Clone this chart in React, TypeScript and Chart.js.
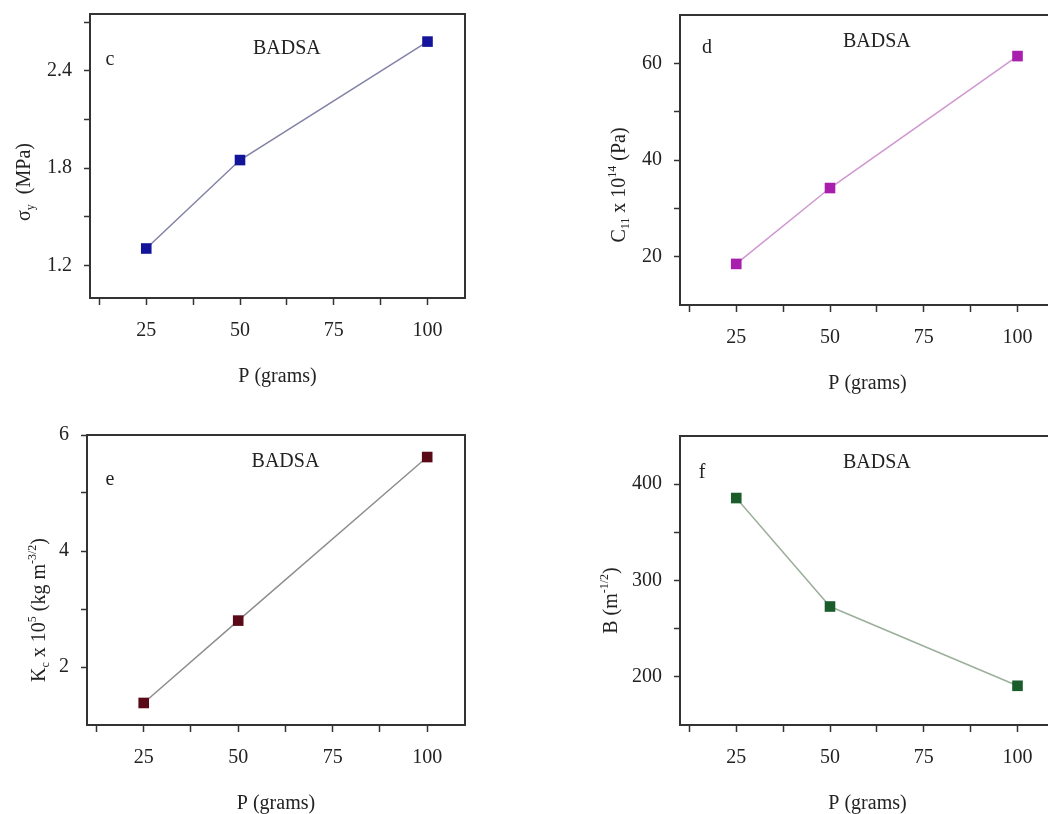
import React, { useEffect, useRef } from 'react';
import { Chart, registerables } from 'chart.js';

Chart.register(...registerables);

// ---------- data ----------
const categories = ['25', '50', '75', '100'];
const xMinorTicks = [0.5, 1.5, 2.5, 3.5];
const loads = ['25', '50', '100'];

const sigmaY = [1.305, 1.85, 2.58];
const c11 = [18.5, 34.2, 61.5];
const kc = [1.38, 2.8, 5.62];
const bIndex = [385.6, 273, 190.7];

const sigmaMajor = [1.2, 1.8, 2.4];
const sigmaMinor = [1.5, 2.1, 2.7];
const c11Major = [20, 40, 60];
const c11Minor = [30, 50];
const kcMajor = [2, 4, 6];
const kcMinor = [3, 5];
const bMajor = [200, 300, 400];
const bMinor = [250, 350];

const sigmaRange = [1.0, 2.75];
const c11Range = [10, 70];
const kcRange = [1, 6];
const bRange = [150, 450];
const xRange = [0.4, 4.4];

type Seg = [string, 'n' | 'sub' | 'sup'];
const sigmaTitle: Seg[] = [['σ', 'n'], ['y', 'sub'], ['  (MPa)', 'n']];
const c11Title: Seg[] = [['C', 'n'], ['11', 'sub'], [' x 10', 'n'], ['14', 'sup'], [' (Pa)', 'n']];
const kcTitle: Seg[] = [['K', 'n'], ['c', 'sub'], [' x 10', 'n'], ['5', 'sup'], [' (kg m', 'n'], ['-3/2', 'sup'], [')', 'n']];
const bTitle: Seg[] = [['B (m', 'n'], ['-1/2', 'sup'], [')', 'n']];

const FONT = '"Liberation Serif", "Times New Roman", Times, serif';
const Y_AXIS_W = 60;
const X_AXIS_H = 40;

function drawRotated(ctx: CanvasRenderingContext2D, segs: Seg[], x: number, y: number, F: number) {
  ctx.save();
  ctx.translate(x, y);
  ctx.rotate(-Math.PI / 2);
  ctx.textAlign = 'left';
  ctx.textBaseline = 'middle';
  const widths = segs.map(([t, k]) => {
    ctx.font = `${k === 'n' ? F : Math.round(F * 0.6)}px ${FONT}`;
    return ctx.measureText(t).width;
  });
  const total = widths.reduce((s, w) => s + w, 0);
  let cur = -total / 2;
  segs.forEach(([t, k], i) => {
    ctx.font = `${k === 'n' ? F : Math.round(F * 0.6)}px ${FONT}`;
    const off = k === 'sub' ? F * 0.3 : k === 'sup' ? -F * 0.35 : 0;
    ctx.fillText(t, cur, off);
    cur += widths[i];
  });
  ctx.restore();
}

interface PanelProps {
  letter: string;
  values: number[];
  range: number[];
  major: number[];
  minor: number[];
  digits: number;
  title: Seg[];
  pointColor: string;
  lineColor: string;
  canvas: { x: number; y: number; w: number; h: number };
  area: { l: number; t: number; r: number; b: number };
  titleOff: { dx: number; dy: number };
  letterOff: { dx: number; dy: number };
  badsaDy: number;
}

function Panel(p: PanelProps) {
  const ref = useRef<HTMLCanvasElement>(null);
  useEffect(() => {
    if (!ref.current) return;
    const xs = loads.map((l) => categories.indexOf(l) + 1);
    const decor = {
      id: 'decor' + p.letter,
      afterDraw(chart: any) {
        const { ctx, chartArea: a, scales } = chart;
        ctx.save();
        ctx.strokeStyle = '#333';
        ctx.lineWidth = 2;
        ctx.beginPath();
        ctx.moveTo(a.left, a.top);
        ctx.lineTo(a.right, a.top);
        ctx.lineTo(a.right, a.bottom);
        ctx.stroke();
        ctx.fillStyle = '#222';
        ctx.font = `20px ${FONT}`;
        ctx.textAlign = 'center';
        ctx.textBaseline = 'middle';
        ctx.fillText('P (grams)', (a.left + a.right) / 2, a.bottom + 79);
        ctx.fillText(p.letter, a.left + p.letterOff.dx, a.top + p.letterOff.dy);
        ctx.fillText('BADSA', scales.x.getPixelForValue(2.5), a.top + p.badsaDy);
        drawRotated(ctx, p.title, a.left + p.titleOff.dx, (a.top + a.bottom) / 2 + p.titleOff.dy, 20);
        ctx.restore();
      },
    };
    const chart = new Chart(ref.current, {
      type: 'line',
      data: {
        datasets: [
          {
            data: p.values.map((v, i) => ({ x: xs[i], y: v })),
            borderColor: p.lineColor,
            borderWidth: 1.5,
            pointStyle: 'rect',
            pointRadius: 7.5,
            pointBackgroundColor: p.pointColor,
            pointBorderColor: p.pointColor,
            pointBorderWidth: 0,
            tension: 0,
          },
        ],
      },
      options: {
        responsive: false,
        animation: false,
        events: [],
        layout: {
          padding: {
            left: p.area.l - p.canvas.x - Y_AXIS_W,
            top: p.area.t - p.canvas.y,
            right: p.canvas.x + p.canvas.w - p.area.r,
            bottom: p.canvas.y + p.canvas.h - p.area.b - X_AXIS_H,
          },
        },
        plugins: { legend: { display: false }, tooltip: { enabled: false } },
        scales: {
          x: {
            type: 'linear',
            min: xRange[0],
            max: xRange[1],
            afterBuildTicks: (scale: any) => {
              scale.ticks = [...categories.map((_, i) => i + 1), ...xMinorTicks]
                .sort((a, b) => a - b)
                .map((v) => ({ value: v }));
            },
            afterFit: (scale: any) => {
              scale.height = X_AXIS_H;
            },
            ticks: {
              autoSkip: false,
              maxRotation: 0,
              padding: 14,
              color: '#222',
              font: { family: FONT, size: 20 },
              callback: (v: any) => (Number.isInteger(v) ? categories[v - 1] : ''),
            },
            grid: { drawOnChartArea: false, drawTicks: true, tickLength: 7, tickColor: '#333', tickWidth: 1.5 },
            border: { display: true, color: '#333', width: 2 },
          },
          y: {
            type: 'linear',
            min: p.range[0],
            max: p.range[1],
            afterBuildTicks: (scale: any) => {
              scale.ticks = [...p.major, ...p.minor].sort((a, b) => a - b).map((v) => ({ value: v }));
            },
            afterFit: (scale: any) => {
              scale.width = Y_AXIS_W;
            },
            ticks: {
              autoSkip: false,
              padding: 12,
              color: '#222',
              font: { family: FONT, size: 20 },
              callback: (v: any) => (p.major.includes(v) ? Number(v).toFixed(p.digits) : ''),
            },
            grid: { drawOnChartArea: false, drawTicks: true, tickLength: 6, tickColor: '#333', tickWidth: 1.5 },
            border: { display: true, color: '#333', width: 2 },
          },
        },
      },
      plugins: [decor],
    } as any);
    return () => chart.destroy();
  }, []);
  return (
    <canvas
      ref={ref}
      width={p.canvas.w}
      height={p.canvas.h}
      style={{ position: 'absolute', left: p.canvas.x, top: p.canvas.y, width: p.canvas.w, height: p.canvas.h }}
    />
  );
}

export default function App() {
  return (
    <div style={{ position: 'absolute', left: 0, top: 0, width: 1048, height: 814, overflow: 'hidden', background: '#fff' }}>
      <Panel
        letter="c"
        values={sigmaY}
        range={sigmaRange}
        major={sigmaMajor}
        minor={sigmaMinor}
        digits={1}
        title={sigmaTitle}
        pointColor="#14149a"
        lineColor="#8282a6"
        canvas={{ x: 0, y: -30, w: 540, h: 440 }}
        area={{ l: 90, t: 14, r: 465, b: 298 }}
        titleOff={{ dx: -65, dy: 26 }}
        letterOff={{ dx: 20, dy: 46 }}
        badsaDy={35}
      />
      <Panel
        letter="d"
        values={c11}
        range={c11Range}
        major={c11Major}
        minor={c11Minor}
        digits={0}
        title={c11Title}
        pointColor="#a81fae"
        lineColor="#cf98cf"
        canvas={{ x: 560, y: -30, w: 520, h: 440 }}
        area={{ l: 680, t: 15, r: 1055, b: 305 }}
        titleOff={{ dx: -60, dy: 25 }}
        letterOff={{ dx: 27, dy: 33 }}
        badsaDy={27}
      />
      <Panel
        letter="e"
        values={kc}
        range={kcRange}
        major={kcMajor}
        minor={kcMinor}
        digits={0}
        title={kcTitle}
        pointColor="#5a0a16"
        lineColor="#8e8e8e"
        canvas={{ x: 0, y: 410, w: 540, h: 404 }}
        area={{ l: 87, t: 435, r: 465, b: 725 }}
        titleOff={{ dx: -47, dy: 30 }}
        letterOff={{ dx: 23, dy: 45 }}
        badsaDy={27}
      />
      <Panel
        letter="f"
        values={bIndex}
        range={bRange}
        major={bMajor}
        minor={bMinor}
        digits={0}
        title={bTitle}
        pointColor="#1a5c2a"
        lineColor="#9cb09c"
        canvas={{ x: 560, y: 410, w: 520, h: 404 }}
        area={{ l: 680, t: 436, r: 1055, b: 725 }}
        titleOff={{ dx: -68, dy: 20 }}
        letterOff={{ dx: 22, dy: 37 }}
        badsaDy={27}
      />
    </div>
  );
}
